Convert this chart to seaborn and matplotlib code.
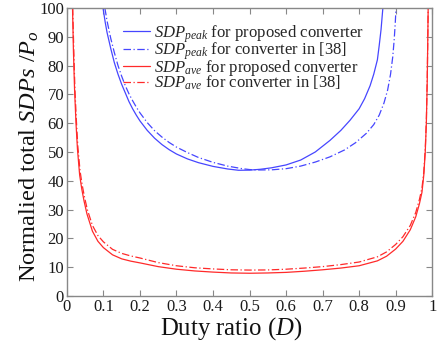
import matplotlib
matplotlib.use("Agg")
import matplotlib.pyplot as plt
import seaborn as sns
import pandas as pd

# Duty ratio samples and readings (normalized total SDPs / Po)
d_peak_prop = [0.099, 0.105, 0.11, 0.12, 0.13, 0.14, 0.15, 0.16, 0.17, 0.18, 0.19, 0.20,
               0.22, 0.24, 0.26, 0.28, 0.30, 0.33, 0.36, 0.40, 0.44, 0.47, 0.50, 0.53,
               0.56, 0.60, 0.64, 0.68, 0.72, 0.75, 0.775, 0.80, 0.815, 0.83, 0.84, 0.85,
               0.855, 0.86, 0.865]
v_peak_prop = [100, 95, 91.5, 86, 81, 77, 73.5, 70.5, 67.5, 65, 62.8, 60.8,
               57.5, 54.8, 52.6, 50.8, 49.3, 47.6, 46.3, 45, 44.1, 43.65, 43.7, 44.0,
               44.5, 45.5, 47.2, 50, 54, 57.5, 61, 65, 68.5, 73, 77, 82,
               87, 92.5, 100]

d_peak_ref = [0.104, 0.11, 0.12, 0.13, 0.14, 0.15, 0.16, 0.17, 0.18, 0.19, 0.20, 0.22,
              0.24, 0.26, 0.28, 0.30, 0.33, 0.36, 0.40, 0.44, 0.48, 0.50, 0.52, 0.56,
              0.60, 0.64, 0.68, 0.72, 0.76, 0.79, 0.82, 0.84, 0.855, 0.868, 0.878, 0.886,
              0.892, 0.896, 0.899, 0.901]
v_peak_ref = [100, 95.5, 89.5, 84.5, 80, 76.3, 73, 70.2, 67.8, 65.6, 63.6, 60.2,
              57.4, 55.2, 53.3, 51.7, 49.8, 48.1, 46.4, 45.1, 44.2, 43.9, 43.75, 43.8,
              44.2, 45.1, 46.5, 48.3, 50.7, 53.2, 56.5, 59.5, 62.8, 67, 71.5, 77,
              83, 89, 95, 100]

d_ave_prop = [0.0155, 0.018, 0.021, 0.025, 0.029, 0.035, 0.041, 0.047, 0.055, 0.07, 0.085,
              0.10, 0.125, 0.15, 0.175, 0.20, 0.25, 0.30, 0.35, 0.40, 0.45, 0.50, 0.55,
              0.60, 0.65, 0.70, 0.75, 0.80, 0.85, 0.875, 0.90, 0.92, 0.94, 0.955, 0.965,
              0.972, 0.977, 0.981, 0.984, 0.9865, 0.989]
v_ave_prop = [100, 85, 72, 60, 51, 42, 37, 33, 28.5, 22.5, 19,
              16.8, 14.3, 12.9, 12.1, 11.5, 10.2, 9.3, 8.7, 8.3, 8.0, 7.9, 8.0,
              8.2, 8.6, 9.1, 9.7, 10.5, 12.2, 13.8, 16.3, 19, 23, 27.5, 32,
              36, 42, 50, 60, 75, 100]

d_ave_ref = [0.016, 0.019, 0.022, 0.026, 0.03, 0.036, 0.042, 0.048, 0.056, 0.07, 0.085,
             0.10, 0.125, 0.15, 0.175, 0.20, 0.25, 0.30, 0.35, 0.40, 0.45, 0.50, 0.55,
             0.60, 0.65, 0.70, 0.75, 0.80, 0.85, 0.875, 0.90, 0.92, 0.94, 0.955, 0.965,
             0.972, 0.977, 0.981, 0.984, 0.9865, 0.989]
v_ave_ref = [100, 85, 72, 61, 52, 43.5, 38.5, 34.5, 30, 24.5, 21,
             18.8, 16.2, 14.8, 13.9, 13.2, 11.6, 10.5, 9.8, 9.4, 9.1, 9.0, 9.05,
             9.3, 9.7, 10.2, 10.9, 11.8, 13.6, 15.3, 17.9, 20.6, 24.5, 29, 33.5,
             37.5, 43, 51, 61, 76, 100]

labels = [r"$SDP_{peak}$ for proposed converter",
          r"$SDP_{peak}$ for converter in [38]",
          r"$SDP_{ave}$ for proposed converter",
          r"$SDP_{ave}$ for converter in [38]"]

x_ticks = [0, 0.1, 0.2, 0.3, 0.4, 0.5, 0.6, 0.7, 0.8, 0.9, 1]
x_tick_labels = ["0", "0.1", "0.2", "0.3", "0.4", "0.5", "0.6", "0.7", "0.8", "0.9", "1"]
y_ticks = [0, 10, 20, 30, 40, 50, 60, 70, 80, 90, 100]

sns.set_style("ticks")
plt.rcParams["font.family"] = ["Liberation Serif", "DejaVu Serif"]
plt.rcParams["mathtext.fontset"] = "custom"
plt.rcParams["mathtext.rm"] = "Liberation Serif"
plt.rcParams["mathtext.it"] = "Liberation Serif:italic"

fig = plt.figure(figsize=(4.37, 3.46), dpi=100)
ax = fig.add_axes([0.153, 0.1445, 0.836, 0.8325])

dashdot = (0, (6, 2, 1, 2))
series = [
    (d_peak_prop, v_peak_prop, labels[0], "#4646ff", "-"),
    (d_peak_ref, v_peak_ref, labels[1], "#4646ff", dashdot),
    (d_ave_prop, v_ave_prop, labels[2], "#ff2a2a", "-"),
    (d_ave_ref, v_ave_ref, labels[3], "#ff2a2a", dashdot),
]
for xs, ys, lab, col, ls in series:
    df = pd.DataFrame({"D": xs, "v": ys})
    sns.lineplot(data=df, x="D", y="v", ax=ax, color=col, linewidth=0.9,
                 linestyle=ls, label=lab, sort=False, estimator=None)

ax.set_xlim(0, 1)
ax.set_ylim(0, 100)
ax.set_xticks(x_ticks)
ax.set_xticklabels(x_tick_labels)
ax.set_yticks(y_ticks)
ax.tick_params(direction="in", length=4, width=0.8, top=True, right=True,
               labelsize=12, color="#888888", labelcolor="#1a1a1a")
ax.tick_params(axis="y", pad=2)
ax.tick_params(axis="x", pad=2.5)
for s in ax.spines.values():
    s.set_color("#888888")
    s.set_linewidth(1.0)

ax.set_xlabel(r"Duty ratio ($D$)", fontsize=17.8, color="#111111")
ax.set_ylabel(r"Normalied total $SDPs$ /$P_o$", fontsize=17.6, color="#111111")
ax.xaxis.set_label_coords(0.449, -0.067)
ax.yaxis.set_label_coords(-0.072, 0.485)

leg = ax.legend(loc="upper left", bbox_to_anchor=(0.153, 0.948), frameon=False,
                fontsize=12, handlelength=1.65, labelspacing=-0.25, borderpad=0.0,
                borderaxespad=0.0, handletextpad=0.25)

fig.savefig("out.png", dpi=100)
